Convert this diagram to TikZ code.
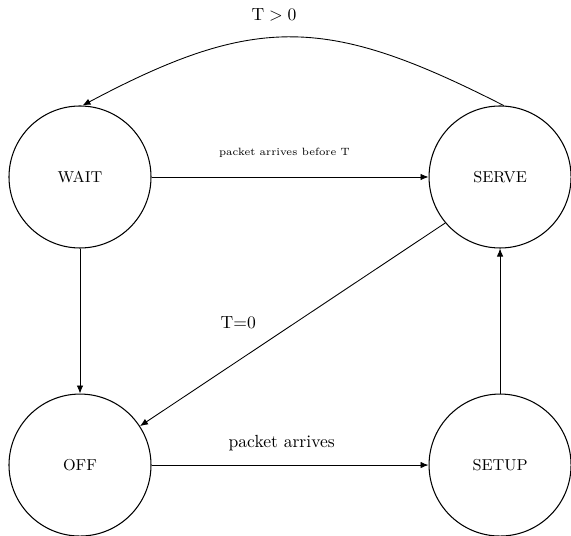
\documentclass[tikz,border=0pt]{standalone}
\usetikzlibrary{arrows.meta, positioning}

\begin{document}
\begin{tikzpicture}[
  node distance=2.9cm and 5.54cm,
  state/.style={draw, circle, line width=0.6pt, minimum size=2.84cm, inner sep=0pt, font=\small},
  arrow/.style={-{Latex[length=1.6mm, width=1.3mm]}, line width=0.5pt}
]
\useasboundingbox (-1.6,3.54) rectangle (9.82,-7.18);
\node[state] (wait) at (0,0) {WAIT};
\node[state, right=of wait] (serve) {SERVE};
\node[state, below=of wait] (off) {OFF};
\node[state, right=of off] (setup) {SETUP};

\draw[arrow] (wait) -- (serve) node[pos=0.48, above=2.6mm, font=\fontsize{6}{7}\selectfont] {packet arrives before T};
\draw[arrow] (wait) -- (off);
\draw[arrow] (off) -- (setup) node[pos=0.47, above=1.6mm] {packet arrives};
\draw[arrow] (setup) -- (serve);
\draw[arrow] (serve.220) -- (off.33) node[pos=0.6, above left=2mm and 0mm] {T=0};
\draw[arrow] (serve.87) to[out=153, in=28, looseness=1.2] node[pos=0.55, above=2mm] {$\mathrm{T} > 0$} (wait.88);
\end{tikzpicture}
\end{document}
